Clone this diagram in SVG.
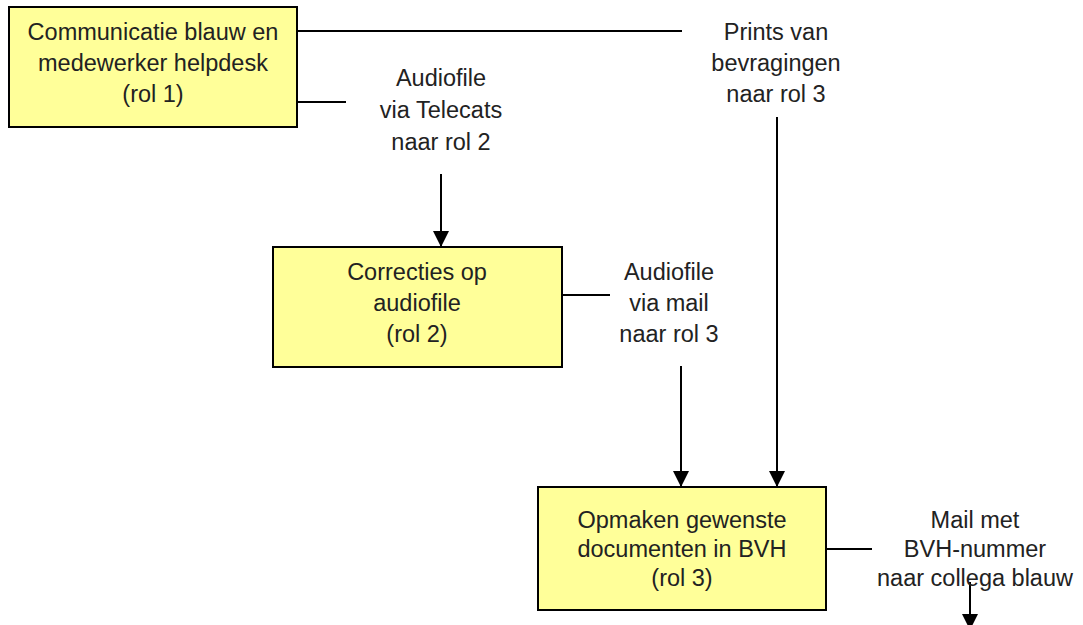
<svg xmlns="http://www.w3.org/2000/svg" width="1083" height="625" viewBox="0 0 1083 625">
  <style>
    .box { fill: #FFFF99; stroke: #000; stroke-width: 2; }
    .t { font-family: "Liberation Sans", Arial, sans-serif; font-size: 23.5px; fill: #222; text-anchor: middle; }
    .c { stroke: #000; stroke-width: 2; fill: none; }
    .a { marker-end: url(#arrow); }
  </style>
  <defs>
    <marker id="arrow" markerUnits="userSpaceOnUse" markerWidth="16" markerHeight="16" refX="15" refY="7.5" orient="auto" viewBox="0 0 15 15">
      <path d="M0,0 L15,7.5 L0,15 z" fill="#000"/>
    </marker>
  </defs>
  <rect width="1083" height="625" fill="#fff"/>
  <g id="connectors">
    <line class="c" x1="297" y1="31" x2="682" y2="31"/>
    <line class="c" x1="297" y1="102" x2="346" y2="102"/>
    <line class="c a" x1="441" y1="174" x2="441" y2="247"/>
    <line class="c" x1="562" y1="295" x2="610" y2="295"/>
    <line class="c a" x1="681" y1="366" x2="681" y2="487"/>
    <line class="c a" x1="777" y1="117" x2="777" y2="487"/>
    <line class="c" x1="826" y1="549" x2="872" y2="549"/>
    <line class="c a" x1="970" y1="582" x2="970" y2="630"/>
  </g>
  <g id="labels">
    <text class="t" x="441" y="86">Audiofile</text>
    <text class="t" x="441" y="118">via Telecats</text>
    <text class="t" x="441" y="150">naar rol 2</text>
    <text class="t" x="776" y="40">Prints van</text>
    <text class="t" x="776" y="71">bevragingen</text>
    <text class="t" x="776" y="102">naar rol 3</text>
    <text class="t" x="669" y="280">Audiofile</text>
    <text class="t" x="669" y="311">via mail</text>
    <text class="t" x="669" y="342">naar rol 3</text>
    <text class="t" x="975" y="528">Mail met</text>
    <text class="t" x="975" y="557">BVH-nummer</text>
    <text class="t" x="975" y="586">naar collega blauw</text>
  </g>
  <g id="node1">
    <rect class="box" x="9" y="7" width="288" height="120"/>
    <text class="t" x="153" y="40">Communicatie blauw en</text>
    <text class="t" x="153" y="71">medewerker helpdesk</text>
    <text class="t" x="153" y="102">(rol 1)</text>
  </g>
  <g id="node2">
    <rect class="box" x="273" y="247" width="289" height="120"/>
    <text class="t" x="417" y="280">Correcties op</text>
    <text class="t" x="417" y="311">audiofile</text>
    <text class="t" x="417" y="342">(rol 2)</text>
  </g>
  <g id="node3">
    <rect class="box" x="538" y="487" width="288" height="123"/>
    <text class="t" x="682" y="528">Opmaken gewenste</text>
    <text class="t" x="682" y="557">documenten in BVH</text>
    <text class="t" x="682" y="586">(rol 3)</text>
  </g>
</svg>
